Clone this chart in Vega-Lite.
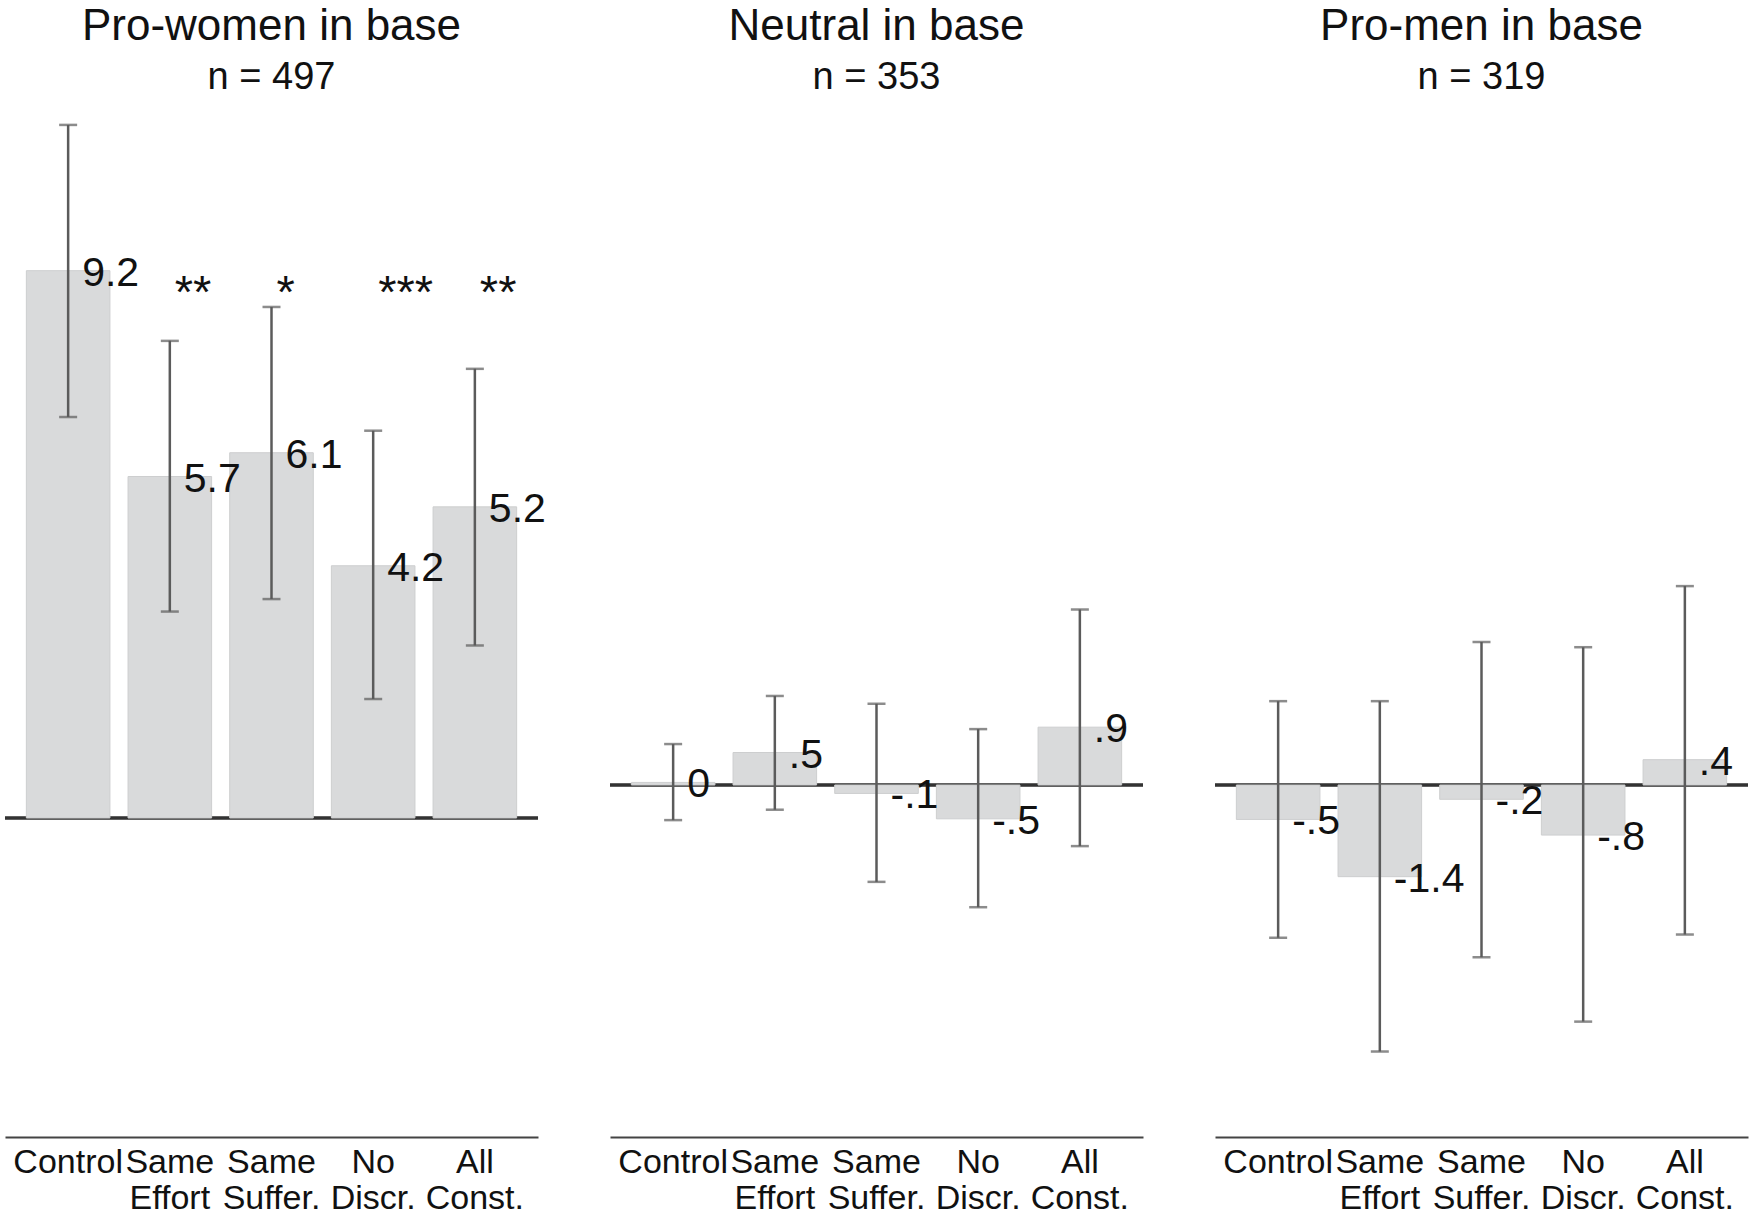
{
  "$schema": "https://vega.github.io/schema/vega-lite/v6.json",
  "background": "white",
  "padding": {"left": 3, "top": 5, "right": 0, "bottom": 0},
  "spacing": 72,
  "bounds": "flush",
  "config": {
    "view": {"stroke": null},
    "font": "Liberation Sans",
    "title": {"fontSize": 44, "subtitleFontSize": 38, "font": "Liberation Sans", "subtitleFont": "Liberation Sans", "fontWeight": "normal", "color": "#111111", "subtitleColor": "#111111", "anchor": "middle", "offset": 4, "subtitlePadding": 10},
    "axisX": {"domainColor": "#444444", "domainWidth": 2, "ticks": false, "tickSize": 0, "labelFontSize": 34, "labelColor": "#111111", "labelPadding": 8, "labelLineHeight": 36, "labelOverlap": false, "labelAngle": 0, "labelBound": false, "labelFlush": false, "grid": false, "title": null}
  },
  "data": {"values": [
    {"panel": "Pro-women in base", "treatment": "Control", "value": 9.2, "lo": 6.74, "hi": 11.65, "label": "9.2", "stars": ""},
    {"panel": "Pro-women in base", "treatment": "Same Effort", "value": 5.74, "lo": 3.47, "hi": 8.02, "label": "5.7", "stars": "**"},
    {"panel": "Pro-women in base", "treatment": "Same Suffer.", "value": 6.14, "lo": 3.68, "hi": 8.59, "label": "6.1", "stars": "*"},
    {"panel": "Pro-women in base", "treatment": "No Discr.", "value": 4.24, "lo": 2.0, "hi": 6.51, "label": "4.2", "stars": "***"},
    {"panel": "Pro-women in base", "treatment": "All Const.", "value": 5.23, "lo": 2.9, "hi": 7.55, "label": "5.2", "stars": "**"},
    {"panel": "Neutral in base", "treatment": "Control", "value": 0.04, "lo": -0.54, "hi": 0.63, "label": "0", "stars": ""},
    {"panel": "Neutral in base", "treatment": "Same Effort", "value": 0.5, "lo": -0.38, "hi": 1.37, "label": ".5", "stars": ""},
    {"panel": "Neutral in base", "treatment": "Same Suffer.", "value": -0.13, "lo": -1.49, "hi": 1.25, "label": "-.1", "stars": ""},
    {"panel": "Neutral in base", "treatment": "No Discr.", "value": -0.52, "lo": -1.88, "hi": 0.86, "label": "-.5", "stars": ""},
    {"panel": "Neutral in base", "treatment": "All Const.", "value": 0.89, "lo": -0.94, "hi": 2.7, "label": ".9", "stars": ""},
    {"panel": "Pro-men in base", "treatment": "Control", "value": -0.53, "lo": -2.35, "hi": 1.29, "label": "-.5", "stars": ""},
    {"panel": "Pro-men in base", "treatment": "Same Effort", "value": -1.41, "lo": -4.1, "hi": 1.29, "label": "-1.4", "stars": ""},
    {"panel": "Pro-men in base", "treatment": "Same Suffer.", "value": -0.22, "lo": -2.65, "hi": 2.2, "label": "-.2", "stars": ""},
    {"panel": "Pro-men in base", "treatment": "No Discr.", "value": -0.77, "lo": -3.64, "hi": 2.12, "label": "-.8", "stars": ""},
    {"panel": "Pro-men in base", "treatment": "All Const.", "value": 0.39, "lo": -2.3, "hi": 3.06, "label": ".4", "stars": ""}
  ]},
  "hconcat": [
    {
      "width": 533, "height": 1036,
      "title": {"text": "Pro-women in base", "subtitle": "n = 497"},
      "transform": [{"filter": "datum.panel === 'Pro-women in base'"}],
      "layer": [
        {"mark": {"type": "rule", "color": "#333333", "strokeWidth": 2.5},
         "encoding": {"y": {"datum": 0, "type": "quantitative", "scale": {"domain": [-5.362, 12.052], "nice": false, "zero": false}, "axis": null}}},
        {"mark": {"type": "bar", "fill": "#d9dadb", "stroke": "#cdcecf", "strokeWidth": 1},
         "encoding": {
           "x": {"field": "treatment", "type": "nominal", "sort": ["Control", "Same Effort", "Same Suffer.", "No Discr.", "All Const."], "scale": {"paddingInner": 0.178, "paddingOuter": 0.21}, "axis": {"labelExpr": "split(datum.label, ' ')"}},
           "y": {"field": "value", "type": "quantitative", "scale": {"domain": [-5.362, 12.052], "nice": false, "zero": false}, "axis": null}}},
        {"mark": {"type": "text", "align": "left", "baseline": "middle", "dx": 14, "dy": 3, "fontSize": 41, "color": "#111111"},
         "encoding": {
           "x": {"field": "treatment", "type": "nominal", "sort": ["Control", "Same Effort", "Same Suffer.", "No Discr.", "All Const."]},
           "y": {"field": "value", "type": "quantitative"},
           "text": {"field": "label"}}},
        {"mark": {"type": "rule", "color": "#5b5b5b", "strokeWidth": 2.5},
         "encoding": {
           "x": {"field": "treatment", "type": "nominal", "sort": ["Control", "Same Effort", "Same Suffer.", "No Discr.", "All Const."]},
           "y": {"field": "lo", "type": "quantitative"},
           "y2": {"field": "hi"}}},
        {"mark": {"type": "tick", "color": "#5b5b5b", "thickness": 2.5, "size": 18, "orient": "horizontal"},
         "encoding": {
           "x": {"field": "treatment", "type": "nominal", "sort": ["Control", "Same Effort", "Same Suffer.", "No Discr.", "All Const."]},
           "y": {"field": "lo", "type": "quantitative"}}},
        {"mark": {"type": "tick", "color": "#5b5b5b", "thickness": 2.5, "size": 18, "orient": "horizontal"},
         "encoding": {
           "x": {"field": "treatment", "type": "nominal", "sort": ["Control", "Same Effort", "Same Suffer.", "No Discr.", "All Const."]},
           "y": {"field": "hi", "type": "quantitative"}}},
        {"mark": {"type": "text", "align": "left", "baseline": "alphabetic", "dx": 5, "fontSize": 47, "color": "#111111"},
         "encoding": {
           "x": {"field": "treatment", "type": "nominal", "sort": ["Control", "Same Effort", "Same Suffer.", "No Discr.", "All Const."]},
           "y": {"datum": 8.58, "type": "quantitative"},
           "text": {"field": "stars"}}}
      ]
    },
    {
      "width": 533, "height": 1036,
      "title": {"text": "Neutral in base", "subtitle": "n = 353"},
      "transform": [{"filter": "datum.panel === 'Neutral in base'"}],
      "layer": [
        {"mark": {"type": "rule", "color": "#333333", "strokeWidth": 2.5},
         "encoding": {"y": {"datum": 0, "type": "quantitative", "scale": {"domain": [-5.415, 10.523], "nice": false, "zero": false}, "axis": null}}},
        {"mark": {"type": "bar", "fill": "#d9dadb", "stroke": "#cdcecf", "strokeWidth": 1},
         "encoding": {
           "x": {"field": "treatment", "type": "nominal", "sort": ["Control", "Same Effort", "Same Suffer.", "No Discr.", "All Const."], "scale": {"paddingInner": 0.178, "paddingOuter": 0.21}, "axis": {"labelExpr": "split(datum.label, ' ')"}},
           "y": {"field": "value", "type": "quantitative", "scale": {"domain": [-5.415, 10.523], "nice": false, "zero": false}, "axis": null}}},
        {"mark": {"type": "text", "align": "left", "baseline": "middle", "dx": 14, "dy": 3, "fontSize": 41, "color": "#111111"},
         "encoding": {
           "x": {"field": "treatment", "type": "nominal", "sort": ["Control", "Same Effort", "Same Suffer.", "No Discr.", "All Const."]},
           "y": {"field": "value", "type": "quantitative"},
           "text": {"field": "label"}}},
        {"mark": {"type": "rule", "color": "#5b5b5b", "strokeWidth": 2.5},
         "encoding": {
           "x": {"field": "treatment", "type": "nominal", "sort": ["Control", "Same Effort", "Same Suffer.", "No Discr.", "All Const."]},
           "y": {"field": "lo", "type": "quantitative"},
           "y2": {"field": "hi"}}},
        {"mark": {"type": "tick", "color": "#5b5b5b", "thickness": 2.5, "size": 18, "orient": "horizontal"},
         "encoding": {
           "x": {"field": "treatment", "type": "nominal", "sort": ["Control", "Same Effort", "Same Suffer.", "No Discr.", "All Const."]},
           "y": {"field": "lo", "type": "quantitative"}}},
        {"mark": {"type": "tick", "color": "#5b5b5b", "thickness": 2.5, "size": 18, "orient": "horizontal"},
         "encoding": {
           "x": {"field": "treatment", "type": "nominal", "sort": ["Control", "Same Effort", "Same Suffer.", "No Discr.", "All Const."]},
           "y": {"field": "hi", "type": "quantitative"}}}
      ]
    },
    {
      "width": 533, "height": 1036,
      "title": {"text": "Pro-men in base", "subtitle": "n = 319"},
      "transform": [{"filter": "datum.panel === 'Pro-men in base'"}],
      "layer": [
        {"mark": {"type": "rule", "color": "#333333", "strokeWidth": 2.5},
         "encoding": {"y": {"datum": 0, "type": "quantitative", "scale": {"domain": [-5.415, 10.523], "nice": false, "zero": false}, "axis": null}}},
        {"mark": {"type": "bar", "fill": "#d9dadb", "stroke": "#cdcecf", "strokeWidth": 1},
         "encoding": {
           "x": {"field": "treatment", "type": "nominal", "sort": ["Control", "Same Effort", "Same Suffer.", "No Discr.", "All Const."], "scale": {"paddingInner": 0.178, "paddingOuter": 0.21}, "axis": {"labelExpr": "split(datum.label, ' ')"}},
           "y": {"field": "value", "type": "quantitative", "scale": {"domain": [-5.415, 10.523], "nice": false, "zero": false}, "axis": null}}},
        {"mark": {"type": "text", "align": "left", "baseline": "middle", "dx": 14, "dy": 3, "fontSize": 41, "color": "#111111"},
         "encoding": {
           "x": {"field": "treatment", "type": "nominal", "sort": ["Control", "Same Effort", "Same Suffer.", "No Discr.", "All Const."]},
           "y": {"field": "value", "type": "quantitative"},
           "text": {"field": "label"}}},
        {"mark": {"type": "rule", "color": "#5b5b5b", "strokeWidth": 2.5},
         "encoding": {
           "x": {"field": "treatment", "type": "nominal", "sort": ["Control", "Same Effort", "Same Suffer.", "No Discr.", "All Const."]},
           "y": {"field": "lo", "type": "quantitative"},
           "y2": {"field": "hi"}}},
        {"mark": {"type": "tick", "color": "#5b5b5b", "thickness": 2.5, "size": 18, "orient": "horizontal"},
         "encoding": {
           "x": {"field": "treatment", "type": "nominal", "sort": ["Control", "Same Effort", "Same Suffer.", "No Discr.", "All Const."]},
           "y": {"field": "lo", "type": "quantitative"}}},
        {"mark": {"type": "tick", "color": "#5b5b5b", "thickness": 2.5, "size": 18, "orient": "horizontal"},
         "encoding": {
           "x": {"field": "treatment", "type": "nominal", "sort": ["Control", "Same Effort", "Same Suffer.", "No Discr.", "All Const."]},
           "y": {"field": "hi", "type": "quantitative"}}}
      ]
    }
  ]
}
